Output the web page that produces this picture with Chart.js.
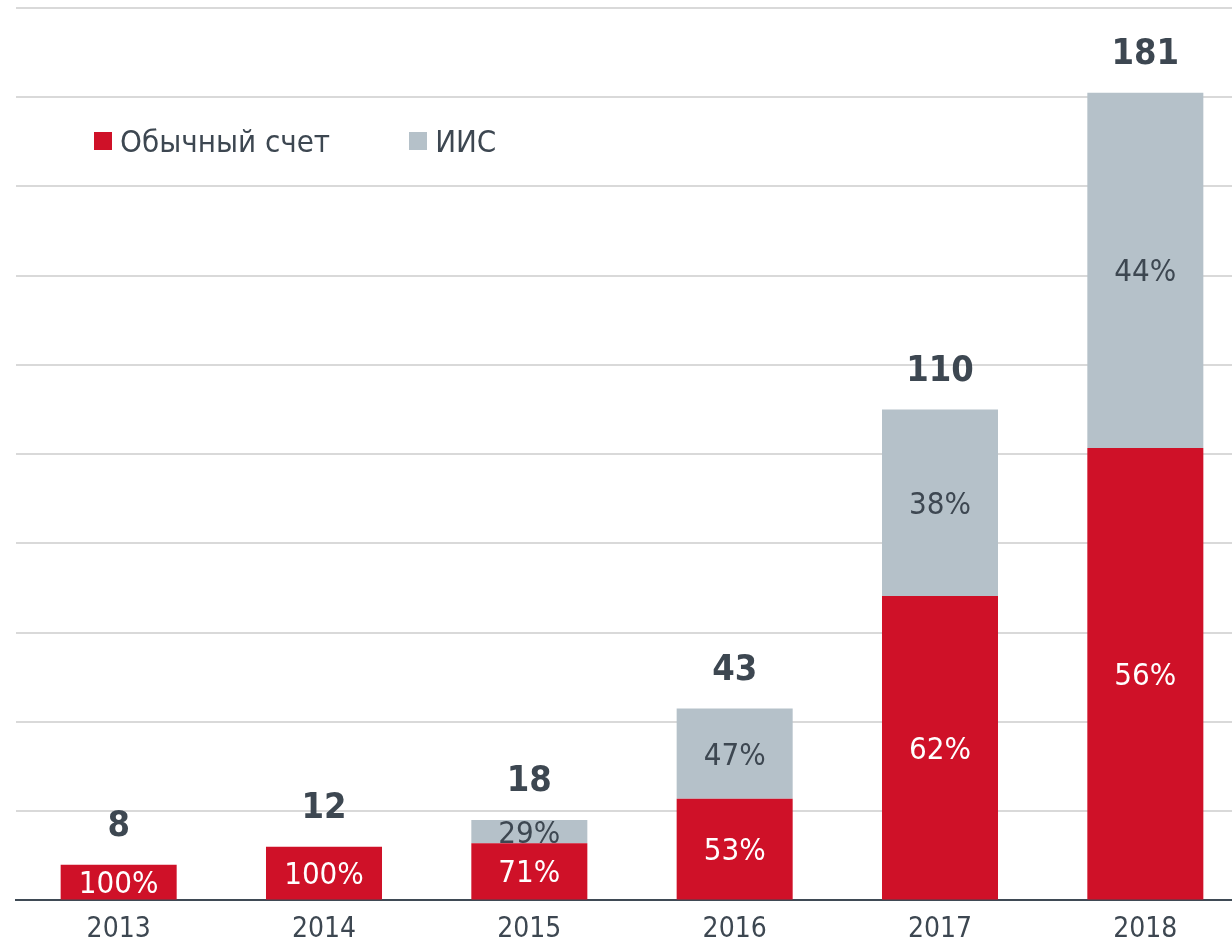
<!DOCTYPE html>
<html>
<head>
<meta charset="utf-8">
<script src="https://cdn.jsdelivr.net/npm/chart.js@4"></script>
<style>
  html, body { margin: 0; padding: 0; background: #fff; overflow: hidden; }
  #wrap { position: relative; width: 1248px; height: 944px; overflow: hidden; }
  .legend { position: absolute; top: 123px; left: 94px; display: flex; align-items: center;
    font-family: "DejaVu Sans Condensed", "DejaVu Sans", sans-serif; font-size: 31px; color: #3D4751; }
  .legend span.box { display: inline-block; width: 18px; height: 18px; margin-right: 8px; }
  .legend .item { display: flex; align-items: center; margin-right: 79px; }
</style>
</head>
<body>
<div id="wrap">
  <canvas id="investChart" width="1248" height="960"></canvas>
  <div class="legend">
    <div class="item"><span class="box" style="background:#CF1128"></span>Обычный счет</div>
    <div class="item"><span class="box" style="background:#B5C1C9"></span>ИИС</div>
  </div>
</div>
<script>
// Data
const years = ["2013", "2014", "2015", "2016", "2017", "2018"]
const totals = [8, 12, 18, 43, 110, 181]
const regularValues = [8, 12, 12.8, 22.8, 68.2, 101.4]
const iisValues = [0, 0, 5.2, 20.2, 41.8, 79.6]
const regularPct = ["100%", "100%", "71%", "53%", "62%", "56%"]
const iisPct = ["", "", "29%", "47%", "38%", "44%"]

const RED = "#CF1128"
const GREY = "#B5C1C9"
const TEXT = "#3D4751"
const FONT = '"DejaVu Sans Condensed", "DejaVu Sans", sans-serif'

// draws percent labels inside segments and totals above bars
const labelsPlugin = {
  id: "barLabels",
  afterDatasetsDraw(chart) {
    const { ctx } = chart
    ctx.save()
    ctx.textAlign = "center"
    ctx.textBaseline = "middle"
    const pctLists = [regularPct, iisPct]
    const colors = ["#fff", TEXT]
    chart.data.datasets.forEach((ds, di) => {
      const meta = chart.getDatasetMeta(di)
      meta.data.forEach((bar, i) => {
        const txt = pctLists[di][i]
        if (!txt) return
        ctx.font = "31px " + FONT
        ctx.fillStyle = colors[di]
        ctx.fillText(txt, bar.x, (bar.y + bar.base) / 2 + 3)
      })
    })
    const yScale = chart.scales.y
    const first = chart.getDatasetMeta(0)
    ctx.font = "bold 36px " + FONT
    ctx.fillStyle = TEXT
    totals.forEach((t, i) => {
      const x = first.data[i].x
      const y = yScale.getPixelForValue(t)
      ctx.fillText(String(t), x, y - 38)
    })
    ctx.restore()
  },
}

const ctx = document.getElementById("investChart")
new Chart(ctx, {
  type: "bar",
  data: {
    labels: years,
    datasets: [
      {
        label: "Обычный счет",
        data: regularValues,
        backgroundColor: RED,
        barPercentage: 0.565,
        categoryPercentage: 1,
      },
      {
        label: "ИИС",
        data: iisValues,
        backgroundColor: GREY,
        barPercentage: 0.565,
        categoryPercentage: 1,
      },
    ],
  },
  options: {
    responsive: false,
    animation: false,
    layout: {
      padding: { left: 16, right: 0, top: 8, bottom: 0 },
    },
    plugins: {
      legend: { display: false },
      tooltip: { enabled: false },
    },
    scales: {
      x: {
        stacked: true,
        grid: { display: false, drawTicks: false },
        border: { display: true, color: "#3F4A55", width: 2 },
        ticks: {
          color: TEXT,
          font: { family: FONT, size: 28 },
          padding: 13,
        },
      },
      y: {
        stacked: true,
        min: 0,
        max: 200,
        ticks: { display: false, stepSize: 20 },
        grid: { color: "#D9D9D9", lineWidth: 2, drawTicks: false },
        border: { display: false },
      },
    },
  },
  plugins: [labelsPlugin],
})
</script>
</body>
</html>
